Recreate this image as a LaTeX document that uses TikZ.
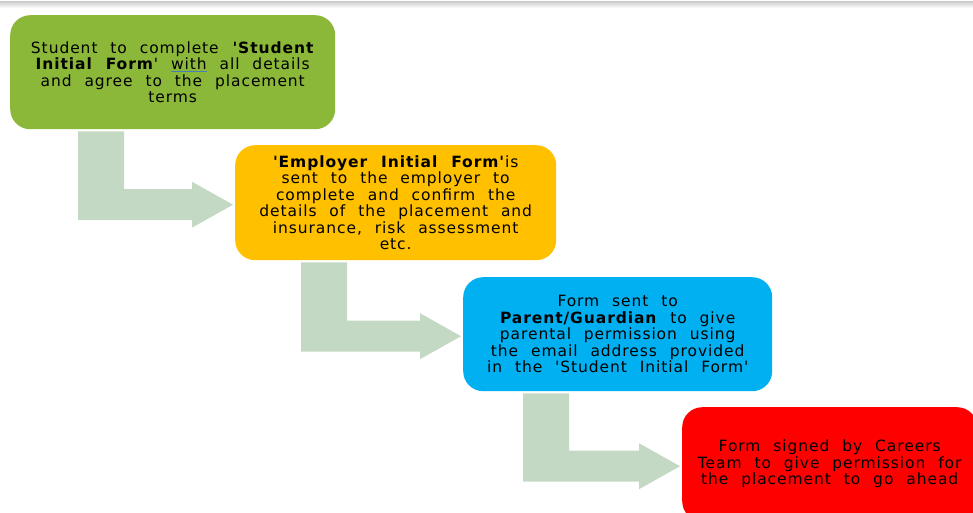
\documentclass[tikz,border=0pt]{standalone}
\usepackage{fontspec}
\setmainfont{DejaVu Sans}[Ligatures=TeXOff, LetterSpace=6, WordSpace=2.2]
\usetikzlibrary{calc}
\definecolor{formgreen}{HTML}{8CB83A}
\definecolor{formorange}{HTML}{FFC000}
\definecolor{formblue}{HTML}{00B0F0}
\definecolor{formred}{HTML}{FF0000}
\definecolor{stepgreen}{HTML}{C4D9C4}
\definecolor{markblue}{HTML}{4A7EBB}
\newcommand\boxfont{\fontsize{15.5}{16.5}\selectfont}
\newcommand\checkline[1]{\textcolor{markblue}{\underline{\textcolor{black}{#1}}}}
% bent arrow from the bottom of one box to the left side of the next
\newcommand\stepArrow[3]{%
	\fill[stepgreen] ($(#1.south west)+(#3,2)$) -- ($(#1.south west)+(#3+46,2)$)
		-- ($(#1.south west |- #2.west)+(#3+46,-13.5)$) -- ($(#2.west)+(-43,-13.5)$)
		-- ($(#2.west)+(-43,-21)$) -- ($(#2.west)+(-2,2)$) -- ($(#2.west)+(-43,25)$)
		-- ($(#2.west)+(-43,17.5)$) -- ($(#1.south west |- #2.west)+(#3,17.5)$) -- cycle;
}
\tikzset{
	stepbox/.style={rounded corners=20pt, minimum height=114pt, inner sep=0pt,
		align=center, anchor=north west, text=black, font=\boxfont},
}
\begin{document}
\begin{tikzpicture}[x=1pt,y=-1pt]
	\useasboundingbox (0,0) rectangle (973,513);
	\clip (0,0) rectangle (973,513);
	\shade[top color=black!18, bottom color=white] (0,2) rectangle (973,8);

	\node[stepbox, fill=formgreen, minimum width=325pt] (student) at (10,15)
		{Student to complete \textbf{'Student}\\ \textbf{Initial Form}' \checkline{with} all details\\ and agree to the placement\\ terms};
	\node[stepbox, fill=formorange, minimum width=321pt, minimum height=115pt] (employer) at (235,145)
		{\textbf{'Employer Initial Form'}is\\ sent to the employer to\\ complete and confirm the\\ details of the placement and\\ insurance, risk assessment\\ etc.};
	\node[stepbox, fill=formblue, minimum width=309pt] (parent) at (463,277)
		{Form sent to\\ \textbf{Parent/Guardian} to give\\ parental permission using\\ the email address provided\\ in the 'Student Initial Form'};
	\node[stepbox, fill=formred, minimum width=295pt] (careers) at (682,407)
		{Form signed by Careers\\ Team to give permission for\\ the placement to go ahead};

	\stepArrow{student}{employer}{68}
	\stepArrow{employer}{parent}{66}
	\stepArrow{parent}{careers}{60}
\end{tikzpicture}
\end{document}
